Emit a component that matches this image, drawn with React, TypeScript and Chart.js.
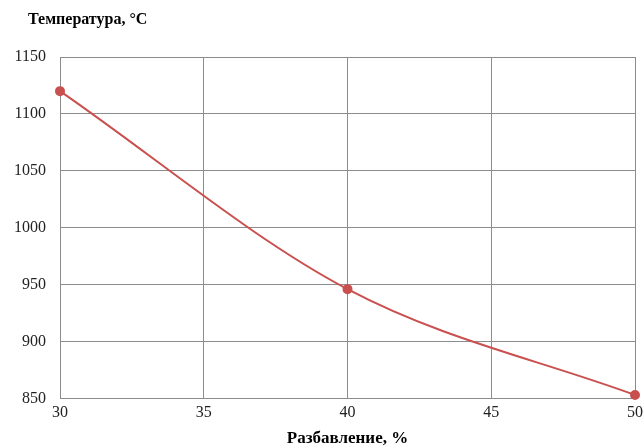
import React, { useEffect, useRef } from "react";
import { Chart, registerables } from "chart.js";

Chart.register(...registerables);

const dilution = [30, 40, 50];
const temperature = [1120, 946, 853];
const xTicks = [30, 35, 40, 45, 50];
const yTicks = [850, 900, 950, 1000, 1050, 1100, 1150];
const yTitle = "Температура, °С";
const xTitle = "Разбавление, %";

const FONT = "'Liberation Serif', 'Times New Roman', serif";

export default function App() {
  const ref = useRef<HTMLCanvasElement | null>(null);
  useEffect(() => {
    if (!ref.current) return;
    const yTitlePlugin = {
      id: "yTitlePlugin",
      afterDraw(chart: any) {
        const { ctx, chartArea } = chart;
        ctx.save();
        ctx.font = `bold 16px ${FONT}`;
        ctx.fillStyle = "#000";
        ctx.textAlign = "left";
        ctx.textBaseline = "middle";
        ctx.fillText(yTitle, chartArea.left - 32, chartArea.top - 37);
        ctx.restore();
      },
    };
    const chart = new Chart(ref.current, {
      type: "line",
      data: {
        datasets: [
          {
            data: dilution.map((x, i) => ({ x, y: temperature[i] })),
            borderColor: "#c9504f",
            backgroundColor: "#c9504f",
            borderWidth: 2,
            pointRadius: 4,
            pointHoverRadius: 4,
            tension: 0.4,
            cubicInterpolationMode: "monotone",
            fill: false,
            clip: false,
          },
        ],
      },
      options: {
        animation: false,
        responsive: false,
        maintainAspectRatio: false,
        layout: { padding: { top: 57, left: 0, right: 9, bottom: -2 } },
        plugins: { legend: { display: false }, tooltip: { enabled: false } },
        scales: {
          x: {
            type: "linear",
            min: 30,
            max: 50,
            afterBuildTicks: (axis: any) => {
              axis.ticks = xTicks.map((v) => ({ value: v }));
            },
            afterFit: (axis: any) => {
              axis.paddingRight = 0;
            },
            grid: { color: "#8c8c8c", lineWidth: 1, drawTicks: false },
            border: { color: "#8c8c8c", width: 1 },
            ticks: {
              color: "#222",
              font: { family: FONT, size: 16 },
              padding: 5,
              callback: (v: any) => String(v),
            },
            title: {
              display: true,
              text: xTitle,
              color: "#000",
              font: { family: FONT, size: 17, weight: "bold" },
              padding: { top: 1, bottom: 0 },
            },
          },
          y: {
            type: "linear",
            min: 850,
            max: 1150,
            afterBuildTicks: (axis: any) => {
              axis.ticks = yTicks.map((v) => ({ value: v }));
            },
            grid: { color: "#8c8c8c", lineWidth: 1, drawTicks: false },
            border: { color: "#8c8c8c", width: 1 },
            ticks: {
              color: "#222",
              font: { family: FONT, size: 16 },
              padding: 14,
              callback: (v: any) => String(v),
            },
          },
        },
      },
      plugins: [yTitlePlugin],
    } as any);
    return () => chart.destroy();
  }, []);
  return (
    <div style={{ position: "fixed", left: 0, top: 0, width: 644, height: 447, background: "#fff" }}>
      <canvas ref={ref} width={644} height={447} style={{ display: "block" }} />
    </div>
  );
}
